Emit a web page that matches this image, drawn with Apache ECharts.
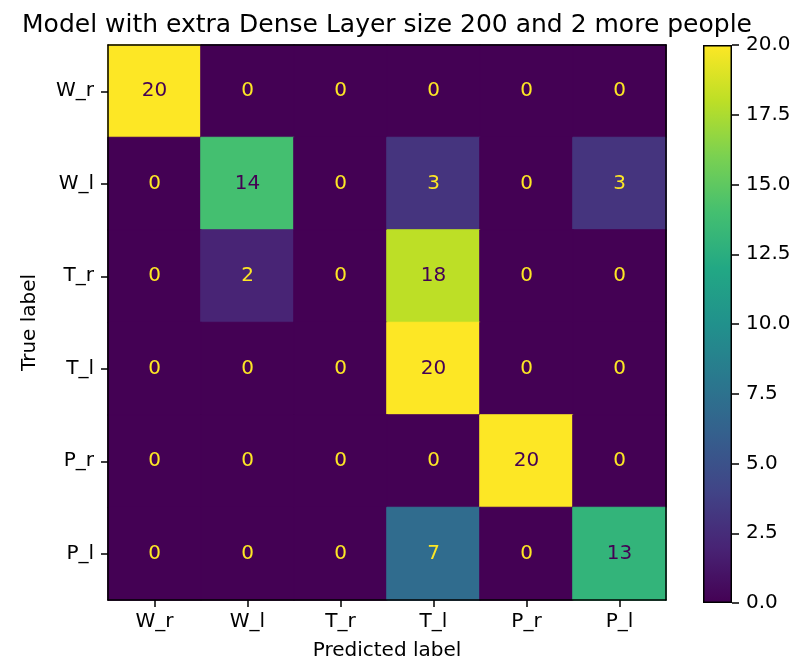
<!DOCTYPE html>
<html>
<head>
<meta charset="utf-8">
<script src="https://cdn.jsdelivr.net/npm/echarts@6/dist/echarts.min.js"></script>
<style>
html,body{margin:0;padding:0;background:#fff;}
#chart{width:808px;height:666px;}
</style>
</head>
<body>
<div id="chart"></div>
<script>
// ---- data ----
const predictedLabels = ['W_r', 'W_l', 'T_r', 'T_l', 'P_r', 'P_l'];
const trueLabels = ['W_r', 'W_l', 'T_r', 'T_l', 'P_r', 'P_l'];
const rowWr = [20, 0, 0, 0, 0, 0];
const rowWl = [0, 14, 0, 3, 0, 3];
const rowTr = [0, 2, 0, 18, 0, 0];
const rowTl = [0, 0, 0, 20, 0, 0];
const rowPr = [0, 0, 0, 0, 20, 0];
const rowPl = [0, 0, 0, 7, 0, 13];
const colorbarTicks = [0, 2.5, 5, 7.5, 10, 12.5, 15, 17.5, 20];
const titleText = 'Model with extra Dense Layer size 200 and 2 more people';

const viridis = ['#440154', '#482475', '#414487', '#355f8d', '#2a788e', '#21918c',
                 '#22a884', '#44bf70', '#7ad151', '#bddf26', '#fde725'];

const rows = [rowWr, rowWl, rowTr, rowTl, rowPr, rowPl];
const vmin = 0, vmax = 20, thresh = (vmin + vmax) / 2;

function hexToRgb(h) { return [1, 3, 5].map(i => parseInt(h.substr(i, 2), 16)); }
function cmap(v) {
  const t = Math.max(0, Math.min(1, (v - vmin) / (vmax - vmin))) * (viridis.length - 1);
  const i = Math.min(Math.floor(t), viridis.length - 2), f = t - i;
  const a = hexToRgb(viridis[i]), b = hexToRgb(viridis[i + 1]);
  return 'rgb(' + a.map((x, k) => Math.round(x + (b[k] - x) * f)).join(',') + ')';
}

const heatData = [];
rows.forEach((row, yi) => {
  row.forEach((v, xi) => {
    heatData.push({
      value: [xi, yi, v],
      itemStyle: { borderColor: cmap(v), borderWidth: 1 },
      label: { color: v < thresh ? viridis[viridis.length - 1] : viridis[0] }
    });
  });
});

const FONT = 'DejaVu Sans';
const chart = echarts.init(document.getElementById('chart'));

chart.setOption({
  animation: false,
  backgroundColor: '#fff',
  textStyle: { fontFamily: FONT },
  title: {
    text: titleText,
    left: 382,
    textAlign: 'center',
    top: 8,
    textStyle: { fontFamily: FONT, fontSize: 25, fontWeight: 'normal', color: '#000' }
  },
  grid: [
    { left: 108, top: 45, width: 558, height: 558 },
    { left: 703, top: 45, width: 29, height: 558 }
  ],
  visualMap: {
    type: 'continuous', show: false, seriesIndex: 0,
    min: vmin, max: vmax, inRange: { color: viridis }
  },
  xAxis: [
    {
      gridIndex: 0, type: 'category', data: predictedLabels, position: 'bottom', z: 10,
      name: 'Predicted label', nameLocation: 'middle', nameGap: 41,
      nameTextStyle: { fontFamily: FONT, fontSize: 20, color: '#000' },
      axisLine: { show: true, lineStyle: { color: '#000', width: 1.5 } },
      axisTick: { show: true, alignWithLabel: true, length: 7, lineStyle: { color: '#000', width: 1.5 } },
      axisLabel: { fontFamily: FONT, fontSize: 20, color: '#000', margin: 12 },
      splitLine: { show: false }
    },
    {
      gridIndex: 0, type: 'category', data: predictedLabels, position: 'top', z: 10,
      axisLine: { show: true, lineStyle: { color: '#000', width: 1.5 } },
      axisTick: { show: false }, axisLabel: { show: false }, splitLine: { show: false }
    },
    {
      gridIndex: 1, type: 'category', data: ['cb'], show: false
    }
  ],
  yAxis: [
    {
      gridIndex: 0, type: 'category', data: trueLabels, inverse: true, position: 'left', z: 10,
      name: 'True label', nameLocation: 'middle', nameGap: 68,
      nameTextStyle: { fontFamily: FONT, fontSize: 20, color: '#000' },
      axisLine: { show: true, lineStyle: { color: '#000', width: 1.5 } },
      axisTick: { show: true, alignWithLabel: true, length: 7, lineStyle: { color: '#000', width: 1.5 } },
      axisLabel: { fontFamily: FONT, fontSize: 20, color: '#000', margin: 14 },
      splitLine: { show: false }
    },
    {
      gridIndex: 0, type: 'category', data: trueLabels, inverse: true, position: 'right', z: 10,
      axisLine: { show: true, lineStyle: { color: '#000', width: 1.5 } },
      axisTick: { show: false }, axisLabel: { show: false }, splitLine: { show: false }
    },
    {
      gridIndex: 1, type: 'value', position: 'right', min: colorbarTicks[0],
      max: colorbarTicks[colorbarTicks.length - 1], interval: 2.5, z: 10,
      axisLine: { show: false },
      axisTick: { show: true, length: 7, lineStyle: { color: '#000', width: 1.5 } },
      axisLabel: { fontFamily: FONT, fontSize: 20, color: '#000', margin: 14,
                   formatter: v => v.toFixed(1) },
      splitLine: { show: false }
    }
  ],
  series: [
    {
      type: 'heatmap', xAxisIndex: 0, yAxisIndex: 0, data: heatData,
      label: { show: true, fontFamily: FONT, fontSize: 20, formatter: p => String(p.value[2]) },
      emphasis: { disabled: true }
    },
    {
      type: 'bar', xAxisIndex: 2, yAxisIndex: 2, barWidth: '100%',
      data: [vmax], silent: true,
      itemStyle: {
        color: { type: 'linear', x: 0, y: 0, x2: 0, y2: 1,
                 colorStops: viridis.slice().reverse().map((c, i) => ({ offset: i / (viridis.length - 1), color: c })) },
        borderColor: '#000', borderWidth: 1.5
      }
    }
  ]
});
</script>
</body>
</html>
